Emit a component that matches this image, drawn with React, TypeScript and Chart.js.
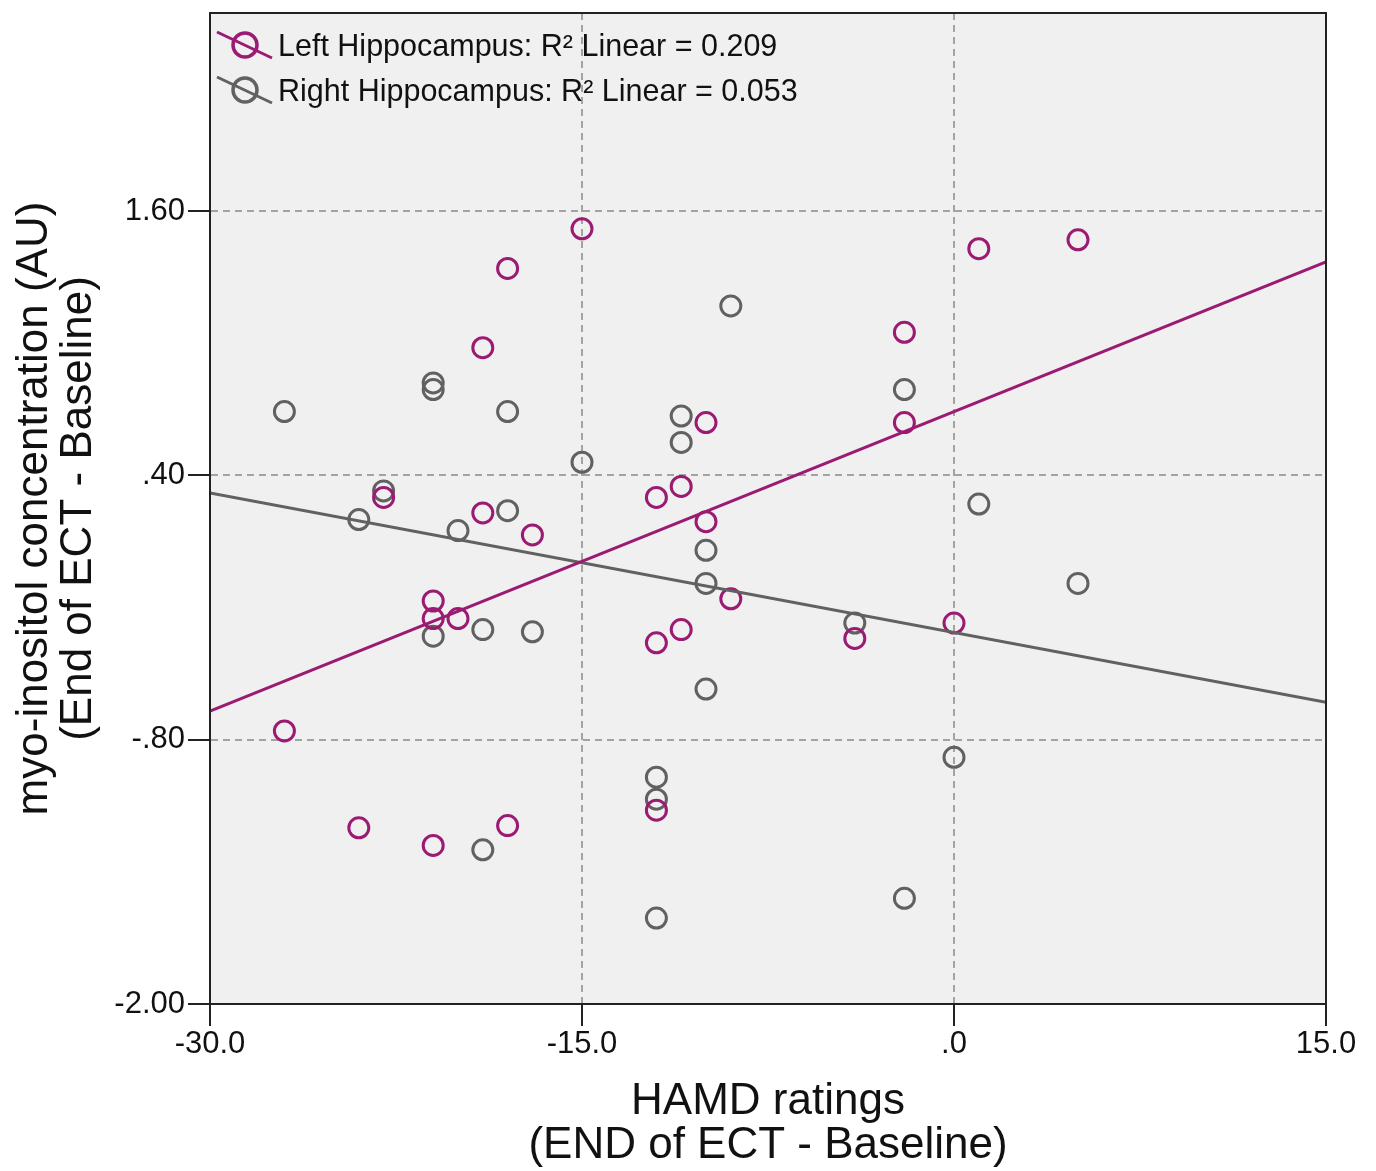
import React, { useEffect, useRef } from 'react';
import { Chart, registerables } from 'chart.js';

Chart.register(...registerables);

// ---- Data ----
const xTickValues = [-30, -15, 0, 15];
const xTickLabels = ['-30.0', '-15.0', '.0', '15.0'];
const yTickValues = [-2.0, -0.8, 0.4, 1.6];
const yTickLabels = ['-2.00', '-.80', '.40', '1.60'];

const xTitle = ['HAMD ratings', '(END of ECT - Baseline)'];
const yTitle = ['myo-inositol concentration (AU)', '(End of ECT - Baseline)'];

const seriesNames = [
  'Left Hippocampus: R\u00B2 Linear = 0.209',
  'Right Hippocampus: R\u00B2 Linear = 0.053',
];

// Left Hippocampus (magenta)
const leftX = [-15, -18, -19, 1, 5, -2, -2, -10, -12, -11, -10, -23, -19, -17, -21, -21, -20, -9, -11, -12, -4, 0, -27, -24, -21, -18, -12];
const leftY = [1.52, 1.34, 0.98, 1.43, 1.47, 1.05, 0.64, 0.64, 0.30, 0.35, 0.19, 0.30, 0.23, 0.13, -0.17, -0.25, -0.25, -0.16, -0.30, -0.36, -0.34, -0.27, -0.76, -1.20, -1.28, -1.19, -1.12];

// Right Hippocampus (gray)
const rightX = [-9, -21, -21, -27, -18, -11, -11, -2, -15, -23, -24, -20, -18, 1, -10, -10, 5, -21, -19, -17, -4, -10, 0, -12, -12, -19, -12, -2];
const rightY = [1.17, 0.82, 0.79, 0.69, 0.69, 0.67, 0.55, 0.79, 0.46, 0.33, 0.20, 0.15, 0.24, 0.27, 0.06, -0.09, -0.09, -0.33, -0.30, -0.31, -0.27, -0.57, -0.88, -0.97, -1.07, -1.30, -1.61, -1.52];

// Linear fit lines (end points)
const fitX = [-30, 15];
const leftFitY = [-0.67, 1.37];
const rightFitY = [0.32, -0.63];

// ---- Styles ----
const MAGENTA = '#9b1a72';
const GRAY = '#616161';
const FONT = "Arial, 'Liberation Sans', Helvetica, sans-serif";
const TEXT = '#111111';
const AXIS = '#222222';
const GRID = '#a3a3a3';

const toPoints = (xs: number[], ys: number[]) => xs.map((x, i) => ({ x, y: ys[i] }));

const bgPlugin = {
  id: 'bgPlugin',
  beforeDraw(chart: any) {
    const { ctx, chartArea: a, width, height } = chart;
    ctx.save();
    ctx.fillStyle = '#ffffff';
    ctx.fillRect(0, 0, width, height);
    ctx.fillStyle = '#f0f0f0';
    ctx.fillRect(a.left, a.top, a.right - a.left, a.bottom - a.top);
    ctx.restore();
  },
};

const framePlugin = {
  id: 'framePlugin',
  afterDraw(chart: any) {
    const { ctx, chartArea: a } = chart;
    ctx.save();
    ctx.strokeStyle = AXIS;
    ctx.lineWidth = 2;
    ctx.strokeRect(a.left, a.top, a.right - a.left, a.bottom - a.top);
    ctx.restore();
  },
};

const legendPlugin = {
  id: 'insideLegend',
  afterDraw(chart: any) {
    const { ctx, chartArea: a } = chart;
    const rows = [
      { color: MAGENTA, text: seriesNames[0], cy: a.top + 32 },
      { color: GRAY, text: seriesNames[1], cy: a.top + 77 },
    ];
    ctx.save();
    rows.forEach((r) => {
      const cx = a.left + 35;
      ctx.strokeStyle = r.color;
      ctx.lineWidth = 3.5;
      ctx.beginPath();
      ctx.arc(cx, r.cy, 12, 0, Math.PI * 2);
      ctx.stroke();
      ctx.lineWidth = 3;
      ctx.beginPath();
      ctx.moveTo(a.left + 7, r.cy - 13);
      ctx.lineTo(a.left + 62, r.cy + 13);
      ctx.stroke();
      ctx.fillStyle = TEXT;
      ctx.font = `30.5px ${FONT}`;
      ctx.textBaseline = 'alphabetic';
      ctx.textAlign = 'left';
      ctx.fillText(r.text, a.left + 68, r.cy + 11);
    });
    ctx.restore();
  },
};

export default function App() {
  const canvasRef = useRef<HTMLCanvasElement | null>(null);

  useEffect(() => {
    const canvas = canvasRef.current;
    if (!canvas) return;
    const gridColor = (c: any) =>
      c.tick && (c.tick.value === -15 || c.tick.value === 0 || c.tick.value === -0.8 || c.tick.value === 0.4 || c.tick.value === 1.6)
        ? GRID
        : 'rgba(0,0,0,0)';

    const chart = new Chart(canvas, {
      type: 'scatter',
      data: {
        datasets: [
          {
            type: 'line',
            label: 'Left fit',
            data: toPoints(fitX, leftFitY),
            borderColor: MAGENTA,
            borderWidth: 3,
            pointRadius: 0,
            showLine: true,
            fill: false,
            order: 0,
          } as any,
          {
            type: 'line',
            label: 'Right fit',
            data: toPoints(fitX, rightFitY),
            borderColor: GRAY,
            borderWidth: 3,
            pointRadius: 0,
            showLine: true,
            fill: false,
            order: 1,
          } as any,
          {
            label: seriesNames[0],
            data: toPoints(leftX, leftY),
            pointStyle: 'circle',
            pointRadius: 10,
            pointBorderWidth: 3,
            pointBackgroundColor: 'rgba(0,0,0,0)',
            pointBorderColor: MAGENTA,
            borderColor: MAGENTA,
            backgroundColor: 'rgba(0,0,0,0)',
            order: 2,
          },
          {
            label: seriesNames[1],
            data: toPoints(rightX, rightY),
            pointStyle: 'circle',
            pointRadius: 10,
            pointBorderWidth: 3,
            pointBackgroundColor: 'rgba(0,0,0,0)',
            pointBorderColor: GRAY,
            borderColor: GRAY,
            backgroundColor: 'rgba(0,0,0,0)',
            order: 3,
          },
        ],
      },
      options: {
        responsive: false,
        animation: false,
        devicePixelRatio: 1,
        layout: { padding: { left: 0, right: 50, top: 10, bottom: 0 } },
        plugins: {
          legend: { display: false },
          tooltip: { enabled: false },
        },
        scales: {
          x: {
            type: 'linear',
            position: 'bottom',
            min: -30,
            max: 15,
            afterBuildTicks: (s: any) => {
              s.ticks = xTickValues.map((v) => ({ value: v }));
            },
            afterFit: (s: any) => {
              s.height = 167;
              s.paddingLeft = 0;
              s.paddingRight = 0;
            },
            ticks: {
              autoSkip: false,
              maxRotation: 0,
              minRotation: 0,
              padding: 3,
              color: TEXT,
              font: { family: FONT, size: 31, lineHeight: 1 },
              callback: (v: any) => xTickLabels[xTickValues.indexOf(Number(v))] ?? '',
            },
            grid: {
              color: gridColor,
              lineWidth: 2,
              tickColor: AXIS,
              tickWidth: 2,
              tickLength: 22,
              drawTicks: true,
            },
            border: { display: true, color: AXIS, width: 2, dash: [7, 5] },
            title: {
              display: true,
              text: xTitle,
              color: TEXT,
              font: { family: FONT, size: 44, lineHeight: 1 },
              padding: { top: 0, bottom: 3 },
            },
          },
          y: {
            type: 'linear',
            position: 'left',
            min: -2,
            max: 2.5,
            afterBuildTicks: (s: any) => {
              s.ticks = yTickValues.map((v) => ({ value: v }));
            },
            afterFit: (s: any) => {
              s.width = 210;
              s.paddingTop = 0;
              s.paddingBottom = 0;
            },
            ticks: {
              autoSkip: false,
              padding: 3,
              color: TEXT,
              font: { family: FONT, size: 31, lineHeight: 1 },
              callback: (v: any) => yTickLabels[yTickValues.indexOf(Number(v))] ?? '',
            },
            grid: {
              color: gridColor,
              lineWidth: 2,
              tickColor: AXIS,
              tickWidth: 2,
              tickLength: 22,
              drawTicks: true,
            },
            border: { display: true, color: AXIS, width: 2, dash: [7, 5] },
            title: {
              display: true,
              text: yTitle,
              color: TEXT,
              font: { family: FONT, size: 44, lineHeight: 1 },
              padding: { top: 13, bottom: 0 },
            },
          },
        },
      } as any,
      plugins: [bgPlugin, framePlugin, legendPlugin],
    });

    return () => {
      chart.destroy();
    };
  }, []);

  return (
    <div style={{ position: 'absolute', left: 0, top: 0, width: 1376, height: 1171, background: '#ffffff' }}>
      <canvas ref={canvasRef} width={1376} height={1171} style={{ display: 'block', width: 1376, height: 1171 }} />
    </div>
  );
}
